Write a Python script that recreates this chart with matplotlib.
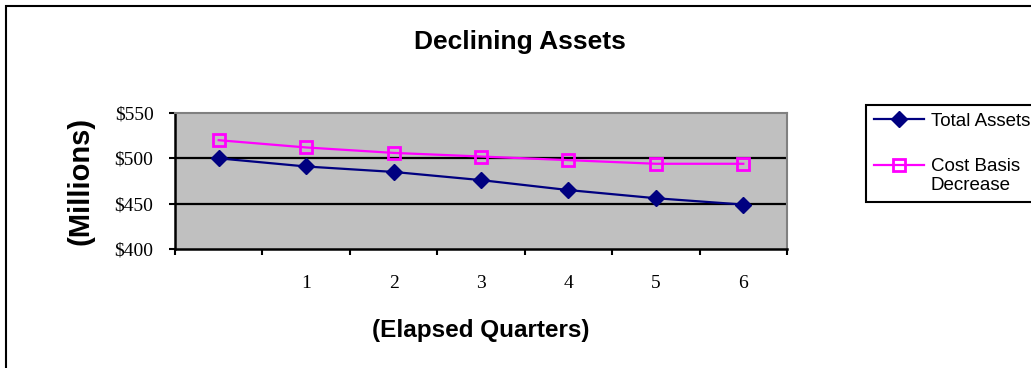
import matplotlib.pyplot as plt
from matplotlib.patches import Rectangle
from matplotlib.ticker import FixedLocator, FuncFormatter

quarters = ['', '1', '2', '3', '4', '5', '6']
total_assets = [500, 491, 485, 476, 465, 456, 449]
cost_basis = [520, 512, 506, 502, 498, 494, 494]

W, H = 1031, 368
fig = plt.figure(figsize=(W / 100, H / 100), dpi=100)
fig.patch.set_facecolor('white')

# chart area frame
fig.patches.append(Rectangle((6 / W, -0.1), 1.2, 1 - 6 / H + 0.1, transform=fig.transFigure,
                             fill=False, edgecolor='black', linewidth=1.5))

ax = fig.add_axes([175 / W, 1 - 249 / H, 612 / W, 136 / H])
ax.set_facecolor('#c0c0c0')

x = range(len(quarters))
ax.plot(x, total_assets, color='#000080', linewidth=1.6, marker='D', markersize=8,
        markerfacecolor='#000080', markeredgecolor='#000080', label='Total Assets', zorder=4)
ax.plot(x, cost_basis, color='#ff00ff', linewidth=1.6, marker='s', markersize=8,
        markerfacecolor='none', markeredgecolor='#ff00ff', markeredgewidth=2,
        label='Cost Basis\nDecrease', zorder=3)

ax.set_ylim(400, 550)
ax.set_xlim(-0.5, len(quarters) - 0.5)
ax.set_yticks([400, 450, 500, 550])
ax.yaxis.set_major_formatter(FuncFormatter(lambda v, p: '${:.0f}'.format(v)))
for v in [450, 500]:
    ax.axhline(v, color='black', linewidth=1.6, zorder=2)

ax.xaxis.set_major_locator(FixedLocator([i - 0.5 for i in range(len(quarters) + 1)]))
ax.xaxis.set_minor_locator(FixedLocator(list(x)))
ax.set_xticklabels([])
ax.set_xticklabels(quarters, minor=True)

ax.tick_params(axis='y', direction='out', length=4.5, width=1.5, pad=11,
               labelsize=14, labelfontfamily='Liberation Serif')
ax.tick_params(axis='x', which='major', direction='out', length=4.5, width=1.5)
ax.tick_params(axis='x', which='minor', length=0, pad=19,
               labelsize=14, labelfontfamily='Liberation Serif')

for s in ['left', 'bottom']:
    ax.spines[s].set_color('black')
    ax.spines[s].set_linewidth(1.8)
for s in ['top', 'right']:
    ax.spines[s].set_color('#808080')
    ax.spines[s].set_linewidth(1.5)

fig.text(520 / W, 1 - 42 / H, 'Declining Assets', ha='center', va='center',
         fontsize=19, fontweight='bold', family='Liberation Sans')
fig.text(481 / W, 1 - 330 / H, '(Elapsed Quarters)', ha='center', va='center',
         fontsize=17.5, fontweight='bold', family='Liberation Sans')
fig.text(81 / W, 1 - 181 / H, '(Millions)', ha='center', va='center', rotation=90,
         fontsize=21, fontweight='bold', family='Liberation Sans')

leg = ax.legend(loc='upper left', bbox_to_anchor=(866 / W, 1 - 105 / H),
                bbox_transform=fig.transFigure, borderaxespad=0, frameon=True,
                fancybox=False, edgecolor='black', framealpha=1,
                prop={'family': 'Liberation Sans', 'size': 13.5},
                handlelength=2.7, handletextpad=0.35, borderpad=0.4, labelspacing=1.5)
leg.get_frame().set_linewidth(1.5)
# keep the second key level with the first line of its two-line label
h = leg.legend_handles[1]
h.set_ydata([y + 8 for y in h.get_ydata()])

fig.savefig('out.png', dpi=100)
